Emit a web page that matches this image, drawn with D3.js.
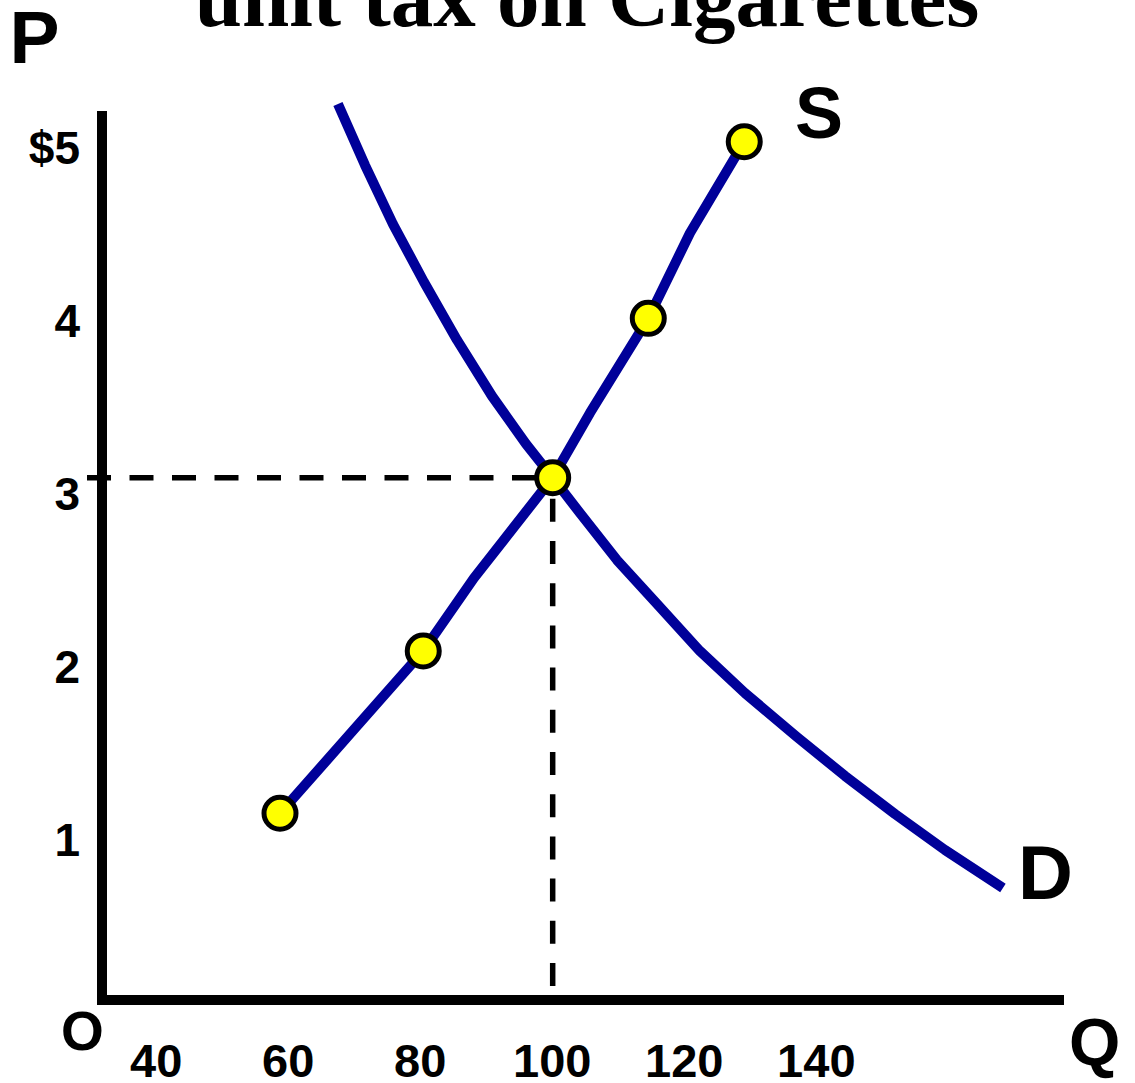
<!DOCTYPE html>
<html>
<head>
<meta charset="utf-8">
<script src="https://cdn.jsdelivr.net/npm/d3@7"></script>
<style>
  html, body { margin: 0; padding: 0; background: #ffffff; }
  svg { display: block; }
</style>
</head>
<body>
<svg id="chart" width="1135" height="1083"></svg>
<script>
// ---------- data ----------
const titleText = "unit tax on Cigarettes";
const xTickValues = [40, 60, 80, 100, 120, 140];
const xTickLabels = ["40", "60", "80", "100", "120", "140"];
const yTickValues = [1, 2, 3, 4, 5];
const yTickLabels = ["1", "2", "3", "4", "$5"];

// Supply curve (quantity, price)
const supplyQ = [58.83, 69.43, 80.53, 88.22, 100.14, 105.79, 114.62, 120.94, 129.16];
const supplyP = [1.159, 1.617, 2.097, 2.519, 3.099, 3.473, 4.020, 4.513, 5.041];

// Highlighted points on supply
const markerQ = [58.83, 80.53, 100.14, 114.62, 129.16];
const markerP = [1.159, 2.097, 3.099, 4.020, 5.041];

// Demand curve (quantity, price)
const demandQ = [67.61, 71.70, 75.94, 80.64, 85.64, 90.94, 96.09, 100.18, 104.27, 109.88, 115.94, 122.45, 129.27, 137.15, 144.42, 151.99, 159.57, 168.35];
const demandP = [5.259, 4.906, 4.565, 4.230, 3.895, 3.571, 3.294, 3.097, 2.895, 2.623, 2.369, 2.097, 1.854, 1.600, 1.375, 1.155, 0.947, 0.727];

// Equilibrium
const eqQ = 100.14;
const eqP = 3.099;

// ---------- drawing ----------
const svg = d3.select("#chart");
const FONT = "'Liberation Sans', Arial, Helvetica, sans-serif";
const BLUE = "#000099";

const x = d3.scaleLinear().domain([40, 140]).range([155.7, 815.8]);
const y = d3.scaleLinear().domain([1, 5]).range([840.8, 148.8]);

const axisX = 102;   // vertical axis line position
const axisY = 1000;  // horizontal axis line position

// title (partially cut off at top)
svg.append("text")
  .attr("x", 587).attr("y", 26)
  .attr("text-anchor", "middle")
  .attr("font-family", "'Liberation Serif', 'Times New Roman', serif")
  .attr("font-weight", "bold")
  .attr("font-size", 85)
  .attr("fill", "#000")
  .text(titleText);

// dashed guide lines
svg.append("line")
  .attr("x1", axisX - 15).attr("x2", x(eqQ))
  .attr("y1", y(eqP)).attr("y2", y(eqP))
  .attr("stroke", "#000").attr("stroke-width", 5.5)
  .attr("stroke-dasharray", "24 18.5");
svg.append("line")
  .attr("x1", x(eqQ)).attr("x2", x(eqQ))
  .attr("y1", axisY - 14).attr("y2", y(eqP))
  .attr("stroke", "#000").attr("stroke-width", 5.5)
  .attr("stroke-dasharray", "23 19.2");

// curves
const line = d3.line().x(d => x(d[0])).y(d => y(d[1])).curve(d3.curveLinear);
const demand = demandQ.map((q, i) => [q, demandP[i]]);
const supply = supplyQ.map((q, i) => [q, supplyP[i]]);

svg.append("path").datum(demand)
  .attr("d", line).attr("fill", "none")
  .attr("stroke", BLUE).attr("stroke-width", 10)
  .attr("stroke-linejoin", "round").attr("stroke-linecap", "butt");
svg.append("path").datum(supply)
  .attr("d", line).attr("fill", "none")
  .attr("stroke", BLUE).attr("stroke-width", 10)
  .attr("stroke-linejoin", "round").attr("stroke-linecap", "butt");

// axes lines (thick)
svg.append("line")
  .attr("x1", axisX).attr("x2", axisX)
  .attr("y1", 111).attr("y2", axisY + 5)
  .attr("stroke", "#000").attr("stroke-width", 10);
svg.append("line")
  .attr("x1", axisX - 5).attr("x2", 1064)
  .attr("y1", axisY).attr("y2", axisY)
  .attr("stroke", "#000").attr("stroke-width", 10);

// tick labels via d3 axes
const yAxis = d3.axisLeft(y)
  .tickValues(yTickValues)
  .tickFormat((d, i) => yTickLabels[i])
  .tickSize(0).tickPadding(22);
const gy = svg.append("g").attr("transform", `translate(${axisX},0)`).call(yAxis);
gy.select(".domain").remove();
gy.selectAll("text")
  .attr("font-family", FONT).attr("font-weight", "bold")
  .attr("font-size", 46).attr("fill", "#000");

const xAxis = d3.axisBottom(x)
  .tickValues(xTickValues)
  .tickFormat((d, i) => xTickLabels[i])
  .tickSize(0).tickPadding(44);
const gx = svg.append("g").attr("transform", `translate(0,${axisY})`).call(xAxis);
gx.select(".domain").remove();
gx.selectAll("text")
  .attr("font-family", FONT).attr("font-weight", "bold")
  .attr("font-size", 47).attr("fill", "#000");

// markers
svg.selectAll("circle.pt")
  .data(markerQ.map((q, i) => [q, markerP[i]]))
  .enter().append("circle")
  .attr("class", "pt")
  .attr("cx", d => x(d[0])).attr("cy", d => y(d[1]))
  .attr("r", 16)
  .attr("fill", "#ffff00")
  .attr("stroke", "#000").attr("stroke-width", 5);

// letter labels
const letters = [
  { t: "P", x: 9.5, y: 63, s: 75 },
  { t: "S", x: 795, y: 137.5, s: 72 },
  { t: "D", x: 1018, y: 899, s: 76 },
  { t: "O", x: 61, y: 1050, s: 55 },
  { t: "Q", x: 1069, y: 1065, s: 66 }
];
svg.selectAll("text.lbl")
  .data(letters).enter().append("text")
  .attr("class", "lbl")
  .attr("x", d => d.x).attr("y", d => d.y)
  .attr("font-family", FONT).attr("font-weight", "bold")
  .attr("font-size", d => d.s).attr("fill", "#000")
  .text(d => d.t);
</script>
</body>
</html>
